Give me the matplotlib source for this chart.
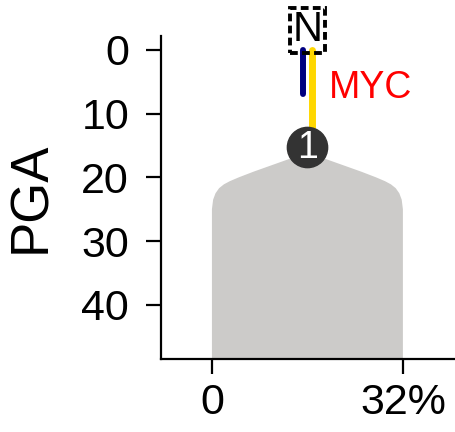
import matplotlib
matplotlib.use("Agg")
import matplotlib.pyplot as plt

plt.rcParams['font.family'] = ['Liberation Sans', 'DejaVu Sans']

# grey clone-size profile: x (%) and top of the shape (PGA)
shape_x = [0, 0, 0.2, 0.6, 1.2, 2, 3, 4.5, 7, 10, 13, 16,
           19, 22, 25, 27.5, 29, 30, 30.8, 31.4, 31.8, 32, 32]
shape_top = [48.5, 25.0, 23.5, 22.5, 21.7, 21.1, 20.6, 20.0, 19.1, 18.1, 17.1, 16.3,
             17.1, 18.1, 19.1, 20.0, 20.6, 21.1, 21.7, 22.5, 23.5, 25.0, 48.5]

# mutation tracks
tracks_x = [15.2, 16.7]
tracks_start = [0, 0]
tracks_end = [7.0, 15.2]
tracks_color = ['#000080', '#FFD700']

node_x, node_y, node_label = 16.0, 15.2, '1'
gene_label = 'MYC'
xticks = [0, 32]
xticklabels = ['0', '32%']
yticks = [0, 10, 20, 30, 40]

fig = plt.figure(figsize=(4.56, 4.32), dpi=100)
ax = fig.add_axes([0.353, 0.169, 0.647, 0.748])

ax.fill(shape_x, shape_top, color='#cccbc9', lw=0, zorder=1)

for x, y0, y1, c in zip(tracks_x, tracks_start, tracks_end, tracks_color):
    ax.plot([x, x], [y0, y1], color=c, lw=5.0 if c == '#FFD700' else 4.3,
            solid_capstyle='round', zorder=2)

ax.plot(node_x, node_y, 'o', ms=29, color='#333333', zorder=3)
ax.text(node_x, node_y + 0.2, node_label, color='white', fontsize=27,
        ha='center', va='center', zorder=4)

ax.text(node_x, -3.1, 'N', fontsize=30, ha='center', va='center', clip_on=False,
        bbox=dict(boxstyle='square,pad=0.06', fc='none', ec='black', lw=2.8, ls=(0, (2.0, 1.1))))
ax.text(19.6, 6.0, gene_label, color='red', fontsize=27, ha='left', va='center')

ax.set_xlim(-8.54, 40.9)
ax.set_ylim(48.5, -2.2)
ax.set_xticks(xticks)
ax.set_xticklabels(xticklabels)
ax.set_yticks(yticks)
ax.set_ylabel('PGA', fontsize=38, labelpad=18)
ax.tick_params(labelsize=31, width=1.6, length=11)
ax.tick_params(axis='y', pad=12)
ax.tick_params(axis='x', pad=6)
for s in ['top', 'right']:
    ax.spines[s].set_visible(False)
for s in ['left', 'bottom']:
    ax.spines[s].set_linewidth(1.6)

fig.savefig('out.png', dpi=100)
